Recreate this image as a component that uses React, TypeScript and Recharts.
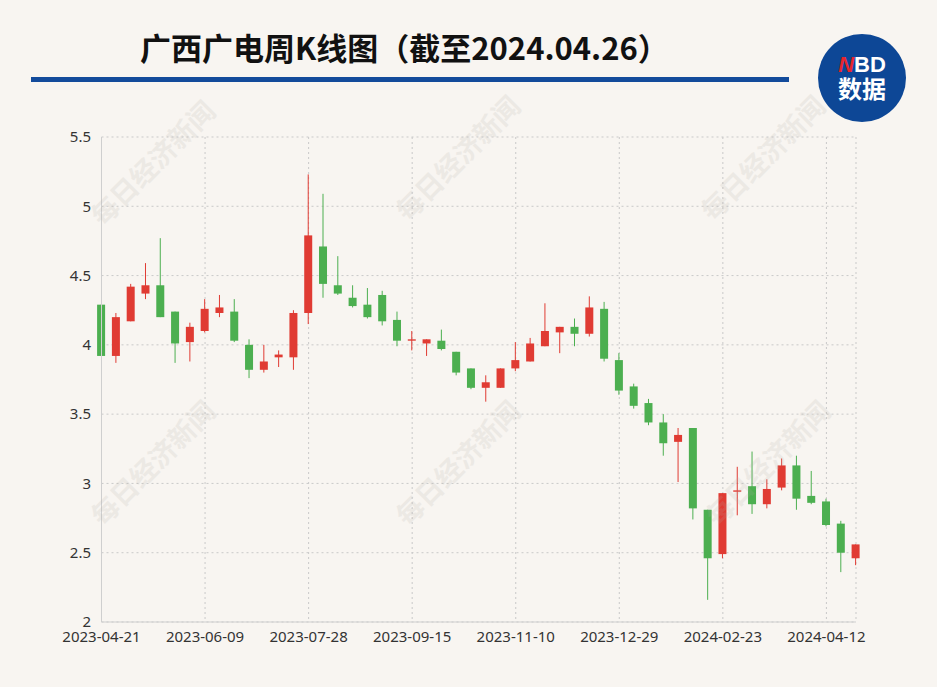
import { ComposedChart, Bar, XAxis, YAxis, CartesianGrid } from "recharts";

// weekly candles, week ending date
const DATES = [
    "2023-04-21", "2023-04-28", "2023-05-05", "2023-05-12", "2023-05-19", "2023-05-26", "2023-06-02",
    "2023-06-09", "2023-06-16", "2023-06-21", "2023-06-30", "2023-07-07", "2023-07-14", "2023-07-21",
    "2023-07-28", "2023-08-04", "2023-08-11", "2023-08-18", "2023-08-25", "2023-09-01", "2023-09-08",
    "2023-09-15", "2023-09-22", "2023-09-28", "2023-10-13", "2023-10-20", "2023-10-27", "2023-11-03",
    "2023-11-10", "2023-11-17", "2023-11-24", "2023-12-01", "2023-12-08", "2023-12-15", "2023-12-22",
    "2023-12-29", "2024-01-05", "2024-01-12", "2024-01-19", "2024-01-26", "2024-02-02", "2024-02-08",
    "2024-02-23", "2024-03-01", "2024-03-08", "2024-03-15", "2024-03-22", "2024-03-29", "2024-04-03",
    "2024-04-12", "2024-04-19", "2024-04-26",
];

const OPEN = [
    4.29, 3.92, 4.17, 4.37, 4.43, 4.24, 4.02, 4.10, 4.23, 4.24, 4.00, 3.82, 3.91, 3.91,
    4.23, 4.71, 4.43, 4.34, 4.29, 4.36, 4.18, 4.03, 4.01, 4.03, 3.95, 3.83, 3.69, 3.69,
    3.83, 3.88, 3.99, 4.09, 4.13, 4.08, 4.26, 3.89, 3.70, 3.58, 3.44, 3.30, 3.40, 2.81,
    2.49, 2.94, 2.98, 2.85, 2.97, 3.13, 2.91, 2.87, 2.71, 2.46,
];
const CLOSE = [
    3.92, 4.20, 4.42, 4.43, 4.20, 4.01, 4.13, 4.26, 4.27, 4.03, 3.82, 3.88, 3.93, 4.23,
    4.79, 4.44, 4.37, 4.28, 4.20, 4.17, 4.03, 4.04, 4.04, 3.97, 3.80, 3.69, 3.73, 3.83,
    3.89, 4.01, 4.10, 4.13, 4.08, 4.27, 3.90, 3.67, 3.56, 3.44, 3.29, 3.35, 2.82, 2.46,
    2.93, 2.95, 2.85, 2.96, 3.13, 2.89, 2.86, 2.70, 2.50, 2.56,
];
const HIGH = [
    4.29, 4.23, 4.44, 4.59, 4.77, 4.24, 4.16, 4.33, 4.36, 4.33, 4.04, 4.00, 3.96, 4.25,
    5.23, 5.09, 4.64, 4.43, 4.41, 4.39, 4.24, 4.10, 4.04, 4.11, 3.95, 3.83, 3.78, 3.83,
    4.02, 4.05, 4.30, 4.13, 4.19, 4.35, 4.31, 3.94, 3.72, 3.61, 3.50, 3.40, 3.40, 2.81,
    2.93, 3.12, 3.23, 3.03, 3.18, 3.20, 3.09, 2.89, 2.73, 2.56,
];
const LOW = [
    3.92, 3.87, 4.17, 4.33, 4.20, 3.87, 3.88, 4.09, 4.20, 4.02, 3.76, 3.80, 3.84, 3.82,
    4.15, 4.34, 4.36, 4.27, 4.19, 4.14, 3.99, 3.96, 3.92, 3.96, 3.78, 3.68, 3.59, 3.69,
    3.81, 3.88, 3.99, 3.94, 3.99, 4.06, 3.88, 3.64, 3.54, 3.42, 3.20, 3.01, 2.74, 2.16,
    2.46, 2.77, 2.78, 2.82, 2.95, 2.81, 2.85, 2.69, 2.36, 2.41,
];

const TICK_DATES = [
    "2023-04-21", "2023-06-09", "2023-07-28", "2023-09-15",
    "2023-11-10", "2023-12-29", "2024-02-23", "2024-04-12",
];
const Y_TICKS = [2, 2.5, 3, 3.5, 4, 4.5, 5, 5.5];

const RED = "#e03b33";
const GREEN = "#4caf50";
const FONT = "'Noto Sans', 'Noto Sans CJK SC', sans-serif";

const data = DATES.map((d, i) => ({
    i,
    date: d,
    open: OPEN[i],
    close: CLOSE[i],
    high: HIGH[i],
    low: LOW[i],
    range: [LOW[i], HIGH[i]],
}));

const xTicks = TICK_DATES.map((d) => DATES.indexOf(d));

// bar spans low..high, body is placed inside it proportionally
const Candle = (props: any) => {
    const { x, y, width, height, payload } = props;
    if (!payload || height == null) return null;
    const { open, close, high, low } = payload;
    const color = close >= open ? RED : GREEN;
    const k = high - low > 0 ? height / (high - low) : 0;
    const toY = (v: number) => y + (high - v) * k;
    const top = toY(Math.max(open, close));
    const bottom = toY(Math.min(open, close));
    const cx = x + width / 2;
    return (
        <g>
            <line x1={cx} x2={cx} y1={y} y2={y + height} stroke={color} strokeWidth={1} />
            <rect x={x} y={top} width={width} height={Math.max(bottom - top, 1.2)} fill={color} />
        </g>
    );
};

const WATERMARKS = [
    [155, 165], [460, 160], [765, 160],
    [155, 465], [460, 465], [770, 465],
];

export default function App() {
    return (
        <div style={{ position: "absolute", left: 0, top: 0, width: 937, height: 687, background: "#f8f5f1", overflow: "hidden" }}>
            <ComposedChart
                width={937}
                height={687}
                data={data}
                margin={{ top: 137, right: 81, bottom: 35, left: 1.5 }}
            >
                <CartesianGrid stroke="#c9c9c9" strokeDasharray="2 3" />
                <XAxis
                    dataKey="i"
                    type="number"
                    domain={["dataMin", "dataMax"]}
                    ticks={xTicks}
                    interval={0}
                    tickFormatter={(v) => DATES[v]}
                    tickLine={false}
                    tickMargin={3}
                    height={30}
                    stroke="#cfcfcf"
                    tick={{ fill: "#333", fontSize: 15, fontFamily: FONT }}
                />
                <YAxis
                    type="number"
                    domain={[2, 5.5]}
                    ticks={Y_TICKS}
                    width={100}
                    tickLine={false}
                    tickMargin={4.5}
                    stroke="#cfcfcf"
                    tick={{ fill: "#333", fontSize: 15, fontFamily: FONT }}
                />
                <Bar dataKey="range" barSize={8} shape={<Candle />} isAnimationActive={false} />
            </ComposedChart>

            <svg width={937} height={687} style={{ position: "absolute", left: 0, top: 0, pointerEvents: "none" }}>
                {WATERMARKS.map(([wx, wy], n) => (
                    <text
                        key={n}
                        x={wx}
                        y={wy}
                        transform={`rotate(-45 ${wx} ${wy})`}
                        textAnchor="middle"
                        dominantBaseline="middle"
                        fontSize={27}
                        fontWeight="bold"
                        fontFamily="'Noto Sans CJK SC', sans-serif"
                        fill="#b0aca6"
                        opacity={0.16}
                    >
                        每日经济新闻
                    </text>
                ))}
                <text x={140} y={60} fontSize={31} fontWeight="bold" fontFamily="'Noto Sans CJK SC', sans-serif" fill="#111">
                    广西广电周K线图（截至2024.04.26）
                </text>
                <rect x={31} y={77} width={758} height={5} fill="#134b9b" />
                <circle cx={862} cy={78} r={44} fill="#0d4796" />
                <text x={862} y={72} textAnchor="middle" fontSize={22} fontWeight="bold" fontFamily="'Liberation Sans', Arial, sans-serif">
                    <tspan fill="#e8262d" fontStyle="italic">N</tspan>
                    <tspan fill="#fff">BD</tspan>
                </text>
                <text x={862} y={98} textAnchor="middle" fontSize={24} fontWeight="bold" fontFamily="'Noto Sans CJK SC', sans-serif" fill="#fff">
                    数据
                </text>
            </svg>
        </div>
    );
}
